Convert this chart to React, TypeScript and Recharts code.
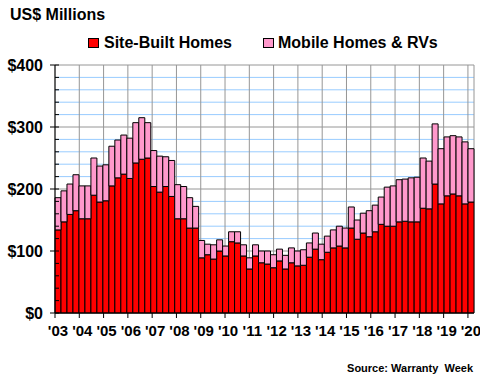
import React from 'react';
import { Bar, BarChart, CartesianGrid, Legend, XAxis, YAxis } from 'recharts';

const FONT = '"Liberation Sans", Arial, Helvetica, sans-serif';

// one label per year, four quarters each ('20 only has two)
const years = ['03', '04', '05', '06', '07', '08', '09', '10', '11', '12', '13', '14', '15', '16', '17', '18', '19', '20'];
const quarters = ['Q1', 'Q2', 'Q3', 'Q4'];

// US$ millions
const siteBuilt = [
  134, 147, 159, 165, 152, 152, 190, 179, 181, 205, 218, 224, 217, 242, 248, 250,
  204, 195, 204, 188, 152, 152, 137, 137, 89, 94, 87, 100, 92, 115, 113, 92,
  71, 92, 81, 79, 73, 84, 71, 81, 76, 77, 90, 103, 86, 98, 105, 108,
  105, 137, 119, 129, 123, 131, 143, 140, 140, 147, 148, 147, 147, 169, 168, 208,
  176, 189, 192, 189, 176, 179,
];
const mobileRv = [
  52, 50, 49, 58, 53, 53, 60, 58, 58, 64, 61, 63, 65, 65, 67, 57,
  58, 58, 48, 58, 55, 52, 49, 35, 28, 17, 23, 18, 16, 16, 18, 18,
  18, 18, 19, 21, 21, 19, 22, 24, 24, 25, 23, 26, 25, 26, 29, 32,
  32, 34, 31, 32, 42, 43, 44, 63, 65, 68, 68, 71, 72, 81, 77, 97,
  89, 95, 94, 95, 100, 86,
];

// gridline every $20, dollar label every $100
const yTicks = [0, 20, 40, 60, 80, 100, 120, 140, 160, 180, 200, 220, 240, 260, 280, 300, 320, 340, 360, 380, 400];
const yearTicks = years.map((_, i) => i * 4);

const chartData = siteBuilt.map((v, i) => ({
  quarter: `'${years[Math.floor(i / 4)]} ${quarters[i % 4]}`,
  site: v,
  mobile: mobileRv[i],
}));

const GRID_BLUE = '#99CCFF';
const GRID_GRAY = '#969696';

const YearTick = ({ x, y, payload }: { x: number; y: number; payload: { value: number } }) => (
  <text x={x + 3} y={y + 16} textAnchor="middle" fontSize={15} fontWeight="bold" fontFamily={FONT} fill="#000">
    {`'${years[payload.value / 4]}`}
  </text>
);

// tickSize 5 + tickMargin 7 => axis line sits at x + 12
const DollarTick = ({ x, y, payload }: { x: number; y: number; payload: { value: number } }) => {
  const major = payload.value % 100 === 0;
  return (
    <g>
      <line x1={major ? x + 7 : x + 12} x2={x + 16} y1={y} y2={y} stroke="#000" />
      {major && (
        <text x={x} y={y} dy="0.36em" textAnchor="end" fontSize={16} fontWeight="bold" fontFamily={FONT} fill="#000">
          {`$${payload.value}`}
        </text>
      )}
    </g>
  );
};

const GridRow = (props: any) => (
  <line
    x1={props.x1}
    x2={props.x2}
    y1={props.y1}
    y2={props.y2}
    stroke={props.index % 5 === 0 ? GRID_GRAY : GRID_BLUE}
    strokeWidth={1}
  />
);

const LegendBox = () => (
  <div style={{ position: 'relative', height: 16, fontFamily: FONT, fontWeight: 'bold', fontSize: 16, lineHeight: '16px', color: '#000' }}>
    <span style={{ position: 'absolute', left: 88, top: 3, width: 9, height: 8, background: '#FF0000', border: '1px solid #000' }} />
    <span style={{ position: 'absolute', left: 104, top: 0, whiteSpace: 'nowrap' }}>Site-Built Homes</span>
    <span style={{ position: 'absolute', left: 263, top: 3, width: 9, height: 8, background: '#FF99CC', border: '1px solid #000' }} />
    <span style={{ position: 'absolute', left: 278, top: 0, whiteSpace: 'nowrap' }}>Mobile Homes &amp; RVs</span>
  </div>
);

export default function App() {
  return (
    <div style={{ position: 'absolute', left: 0, top: 0, width: 480, height: 380, background: '#fff' }}>
      <div style={{ position: 'absolute', left: 10, top: 7, fontFamily: FONT, fontWeight: 'bold', fontSize: 16, lineHeight: '16px', whiteSpace: 'nowrap' }}>
        US$ Millions
      </div>
      <BarChart
        width={480}
        height={380}
        data={chartData}
        margin={{ top: 65, right: 6, left: 5, bottom: 37 }}
        barCategoryGap={0}
      >
        <CartesianGrid xAxisId="yr" yAxisId={0} horizontal={GridRow} vertical={{ stroke: GRID_GRAY }} stroke={GRID_GRAY} />
        <XAxis
          xAxisId="yr"
          type="number"
          domain={[0, siteBuilt.length]}
          allowDataOverflow
          ticks={yearTicks}
          interval={0}
          height={30}
          tickSize={5}
          tickLine={{ stroke: '#000' }}
          axisLine={{ stroke: '#000' }}
          tick={YearTick}
        />
        <XAxis xAxisId="cat" dataKey="quarter" hide height={0} />
        <XAxis
          xAxisId="top"
          orientation="top"
          type="number"
          domain={[0, siteBuilt.length]}
          allowDataOverflow
          height={0}
          tick={false}
          tickLine={false}
          axisLine={{ stroke: '#000' }}
        />
        <YAxis
          yAxisId={0}
          domain={[0, 400]}
          ticks={yTicks}
          interval={0}
          width={50}
          tickSize={5}
          tickMargin={7}
          tickLine={false}
          axisLine={{ stroke: '#000' }}
          tick={DollarTick}
        />
        <YAxis
          yAxisId="right"
          orientation="right"
          width={0}
          domain={[0, 400]}
          tick={false}
          tickLine={false}
          axisLine={{ stroke: '#000' }}
        />
        <Legend
          layout="horizontal"
          verticalAlign="middle"
          align="center"
          wrapperStyle={{ top: 35, left: 0, width: 480 }}
          content={LegendBox}
        />
        <Bar xAxisId="cat" yAxisId={0} dataKey="site" stackId="a" fill="#FF0000" stroke="#000" strokeWidth={1} isAnimationActive={false} />
        <Bar xAxisId="cat" yAxisId={0} dataKey="mobile" stackId="a" fill="#FF99CC" stroke="#000" strokeWidth={1} isAnimationActive={false} />
      </BarChart>
      <div style={{ position: 'absolute', right: 7, top: 363, fontFamily: FONT, fontWeight: 'bold', fontSize: 11, lineHeight: '11px', whiteSpace: 'pre' }}>
        Source: Warranty  Week
      </div>
    </div>
  );
}
